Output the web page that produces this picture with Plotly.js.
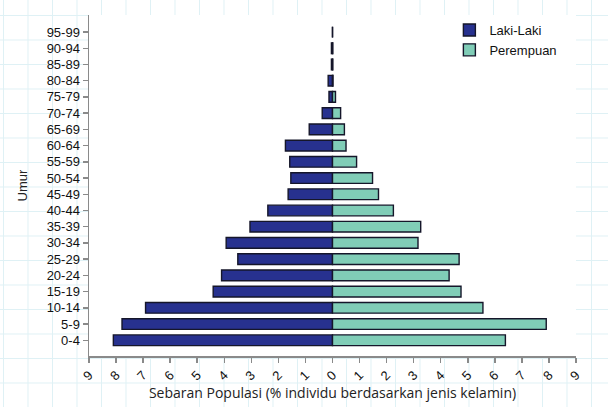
<!DOCTYPE html>
<html>
<head>
<meta charset="utf-8">
<script src="https://cdn.plot.ly/plotly-3.0.1.min.js"></script>
<style>
  html, body { margin: 0; padding: 0; }
  body {
    width: 608px; height: 407px;
    background-color: #ffffff;
    /* faint graph-paper look behind the chart */
    background-image:
      linear-gradient(to right, #dff1f5 1px, transparent 1px),
      linear-gradient(to bottom, #dff1f5 1px, transparent 1px);
    background-size: 24.5px 24.5px;
    background-position: 3px 15px;
  }
  #chart { width: 608px; height: 407px; }
</style>
</head>
<body>
<div id="chart"></div>
<script>
// Age groups, bottom to top
var ageGroups = ['0-4', '5-9', '10-14', '15-19', '20-24', '25-29', '30-34', '35-39', '40-44', '45-49',
                 '50-54', '55-59', '60-64', '65-69', '70-74', '75-79', '80-84', '85-89', '90-94', '95-99'];

// % of individuals by sex
var lakiLaki  = [8.10, 7.78, 6.91, 4.41, 4.10, 3.50, 3.93, 3.05, 2.39, 1.64,
                 1.54, 1.58, 1.74, 0.86, 0.38, 0.13, 0.16, 0.04, 0.04, 0];
var perempuan = [6.39, 7.90, 5.56, 4.75, 4.31, 4.68, 3.16, 3.26, 2.25, 1.70,
                 1.48, 0.89, 0.50, 0.44, 0.30, 0.11, 0.02, 0.01, 0.01, 0];

var xTicks = [-9, -8, -7, -6, -5, -4, -3, -2, -1, 0, 1, 2, 3, 4, 5, 6, 7, 8, 9];

var lineStyle = { color: '#15162a', width: 1.4 };
var arial = '"Liberation Sans", Arial, sans-serif';

var traces = [
    {
        name: 'Laki-Laki',
        type: 'bar',
        orientation: 'h',
        y: ageGroups,
        x: lakiLaki.map(v => -v),
        marker: { color: '#27318f', line: lineStyle },
        hoverinfo: 'skip'
    },
    {
        name: 'Perempuan',
        type: 'bar',
        orientation: 'h',
        y: ageGroups,
        x: perempuan,
        marker: { color: '#80cdb7', line: lineStyle },
        hoverinfo: 'skip'
    }
];

var layout = {
    width: 608,
    height: 407,
    margin: { l: 89, r: 32, t: 15, b: 51 },
    paper_bgcolor: 'rgba(0,0,0,0)',
    plot_bgcolor: '#ffffff',
    barmode: 'overlay',
    bargap: 0.34,
    font: { family: arial, size: 13, color: '#222' },
    showlegend: true,
    legend: {
        x: 0.74, y: 1.0, xanchor: 'left', yanchor: 'top',
        bgcolor: 'rgba(0,0,0,0)',
        font: { family: arial, size: 13, color: '#111' },
        tracegroupgap: 0,
        itemwidth: 30
    },
    xaxis: {
        range: [-9, 9],
        tickvals: xTicks,
        ticktext: xTicks.map(v => String(Math.abs(v))),
        tickangle: -45,
        ticks: 'outside',
        ticklen: 5,
        tickcolor: '#8a8a8a',
        tickwidth: 1.5,
        showline: true,
        linecolor: '#8a8a8a',
        linewidth: 1.5,
        showgrid: false,
        zeroline: false,
        fixedrange: true,
        tickfont: { family: arial, size: 13, color: '#111' },
        title: {
            text: 'Sebaran Populasi (% individu berdasarkan jenis kelamin)',
            font: { family: '"Open Sans", "DejaVu Sans", sans-serif', size: 14, color: '#222' },
            standoff: 4
        }
    },
    yaxis: {
        type: 'category',
        range: [-0.97, 20.05],
        ticks: 'outside',
        ticklen: 5,
        tickcolor: '#8a8a8a',
        tickwidth: 1.5,
        showline: true,
        linecolor: '#8a8a8a',
        linewidth: 1.5,
        showgrid: false,
        fixedrange: true,
        tickfont: { family: arial, size: 13, color: '#111' },
        title: {
            text: 'Umur',
            font: { family: arial, size: 13, color: '#222' },
            standoff: 16
        }
    }
};

Plotly.newPlot('chart', traces, layout, { displayModeBar: false, staticPlot: true });
</script>
</body>
</html>
